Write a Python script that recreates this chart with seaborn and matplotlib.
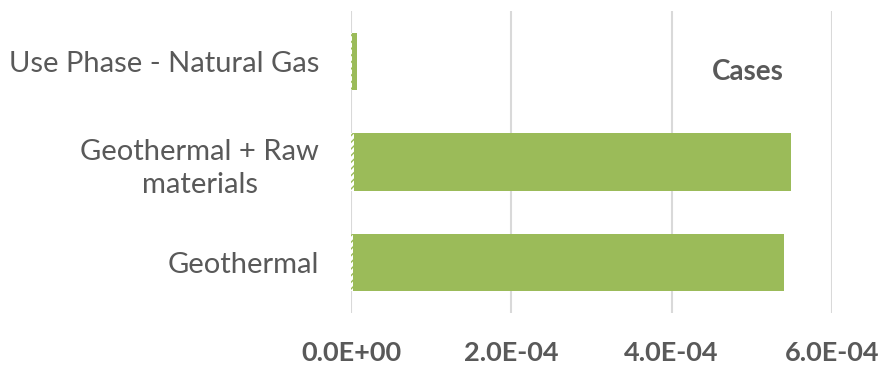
import matplotlib
matplotlib.use("Agg")
import matplotlib.pyplot as plt
import seaborn as sns
import pandas as pd

# Cases shown on the vertical axis (top to bottom)
cases = ["Use Phase - Natural Gas", "Geothermal + Raw\nmaterials", "Geothermal"]
# Small hatched contribution at the start of each bar
minor_part = [1.5e-6, 4.0e-6, 3.0e-6]
# Main (solid) contribution
main_part = [5.5e-6, 5.445e-4, 5.37e-4]
tick_values = [0.0, 2e-4, 4e-4, 6e-4]
tick_labels = ["0.0E+00", "2.0E-04", "4.0E-04", "6.0E-04"]

green = "#9BBB59"
text_grey = "#595959"
grid_grey = "#D9D9D9"

df = pd.DataFrame({
    "case": cases,
    "minor": minor_part,
    "total": [a + b for a, b in zip(minor_part, main_part)],
})

sns.set_style("white")
plt.rcParams["font.family"] = ["Lato", "DejaVu Sans"]

fig = plt.figure(figsize=(8.84, 3.67), dpi=100)
ax = fig.add_axes([351 / 884, 1 - 313 / 367, (832 - 351) / 884, (313 - 11) / 367])

# Full stacked length drawn solid, then the hatched first segment over it
sns.barplot(data=df, x="total", y="case", orient="h", color=green,
            width=0.57, saturation=1, linewidth=0, ax=ax)
sns.barplot(data=df, x="minor", y="case", orient="h", facecolor="white",
            edgecolor=green, hatch="/////", width=0.57, saturation=1,
            linewidth=0, ax=ax)

ax.set_xlim(0, 6e-4)
ax.set_xticks(tick_values)
ax.set_xticklabels(tick_labels, fontsize=19.5, fontweight="bold", color=text_grey)
ax.set_yticks(range(len(cases)))
ax.set_yticklabels(cases, fontsize=21, color=text_grey,
                   multialignment="center", linespacing=1.38)
ax.tick_params(axis="x", length=0, pad=20)
ax.tick_params(axis="y", length=0, pad=23)
ax.set_xlabel("")
ax.set_ylabel("")

ax.grid(axis="x", color=grid_grey, linewidth=1.5)
ax.grid(axis="y", visible=False)
ax.set_axisbelow(True)
for side in ["top", "right", "bottom", "left"]:
    ax.spines[side].set_visible(False)

ax.text(748 / 884, 1 - 72 / 367, "Cases", transform=fig.transFigure,
        fontsize=20, fontweight="bold", color=text_grey,
        ha="center", va="center")

fig.savefig("out.png", dpi=100)
